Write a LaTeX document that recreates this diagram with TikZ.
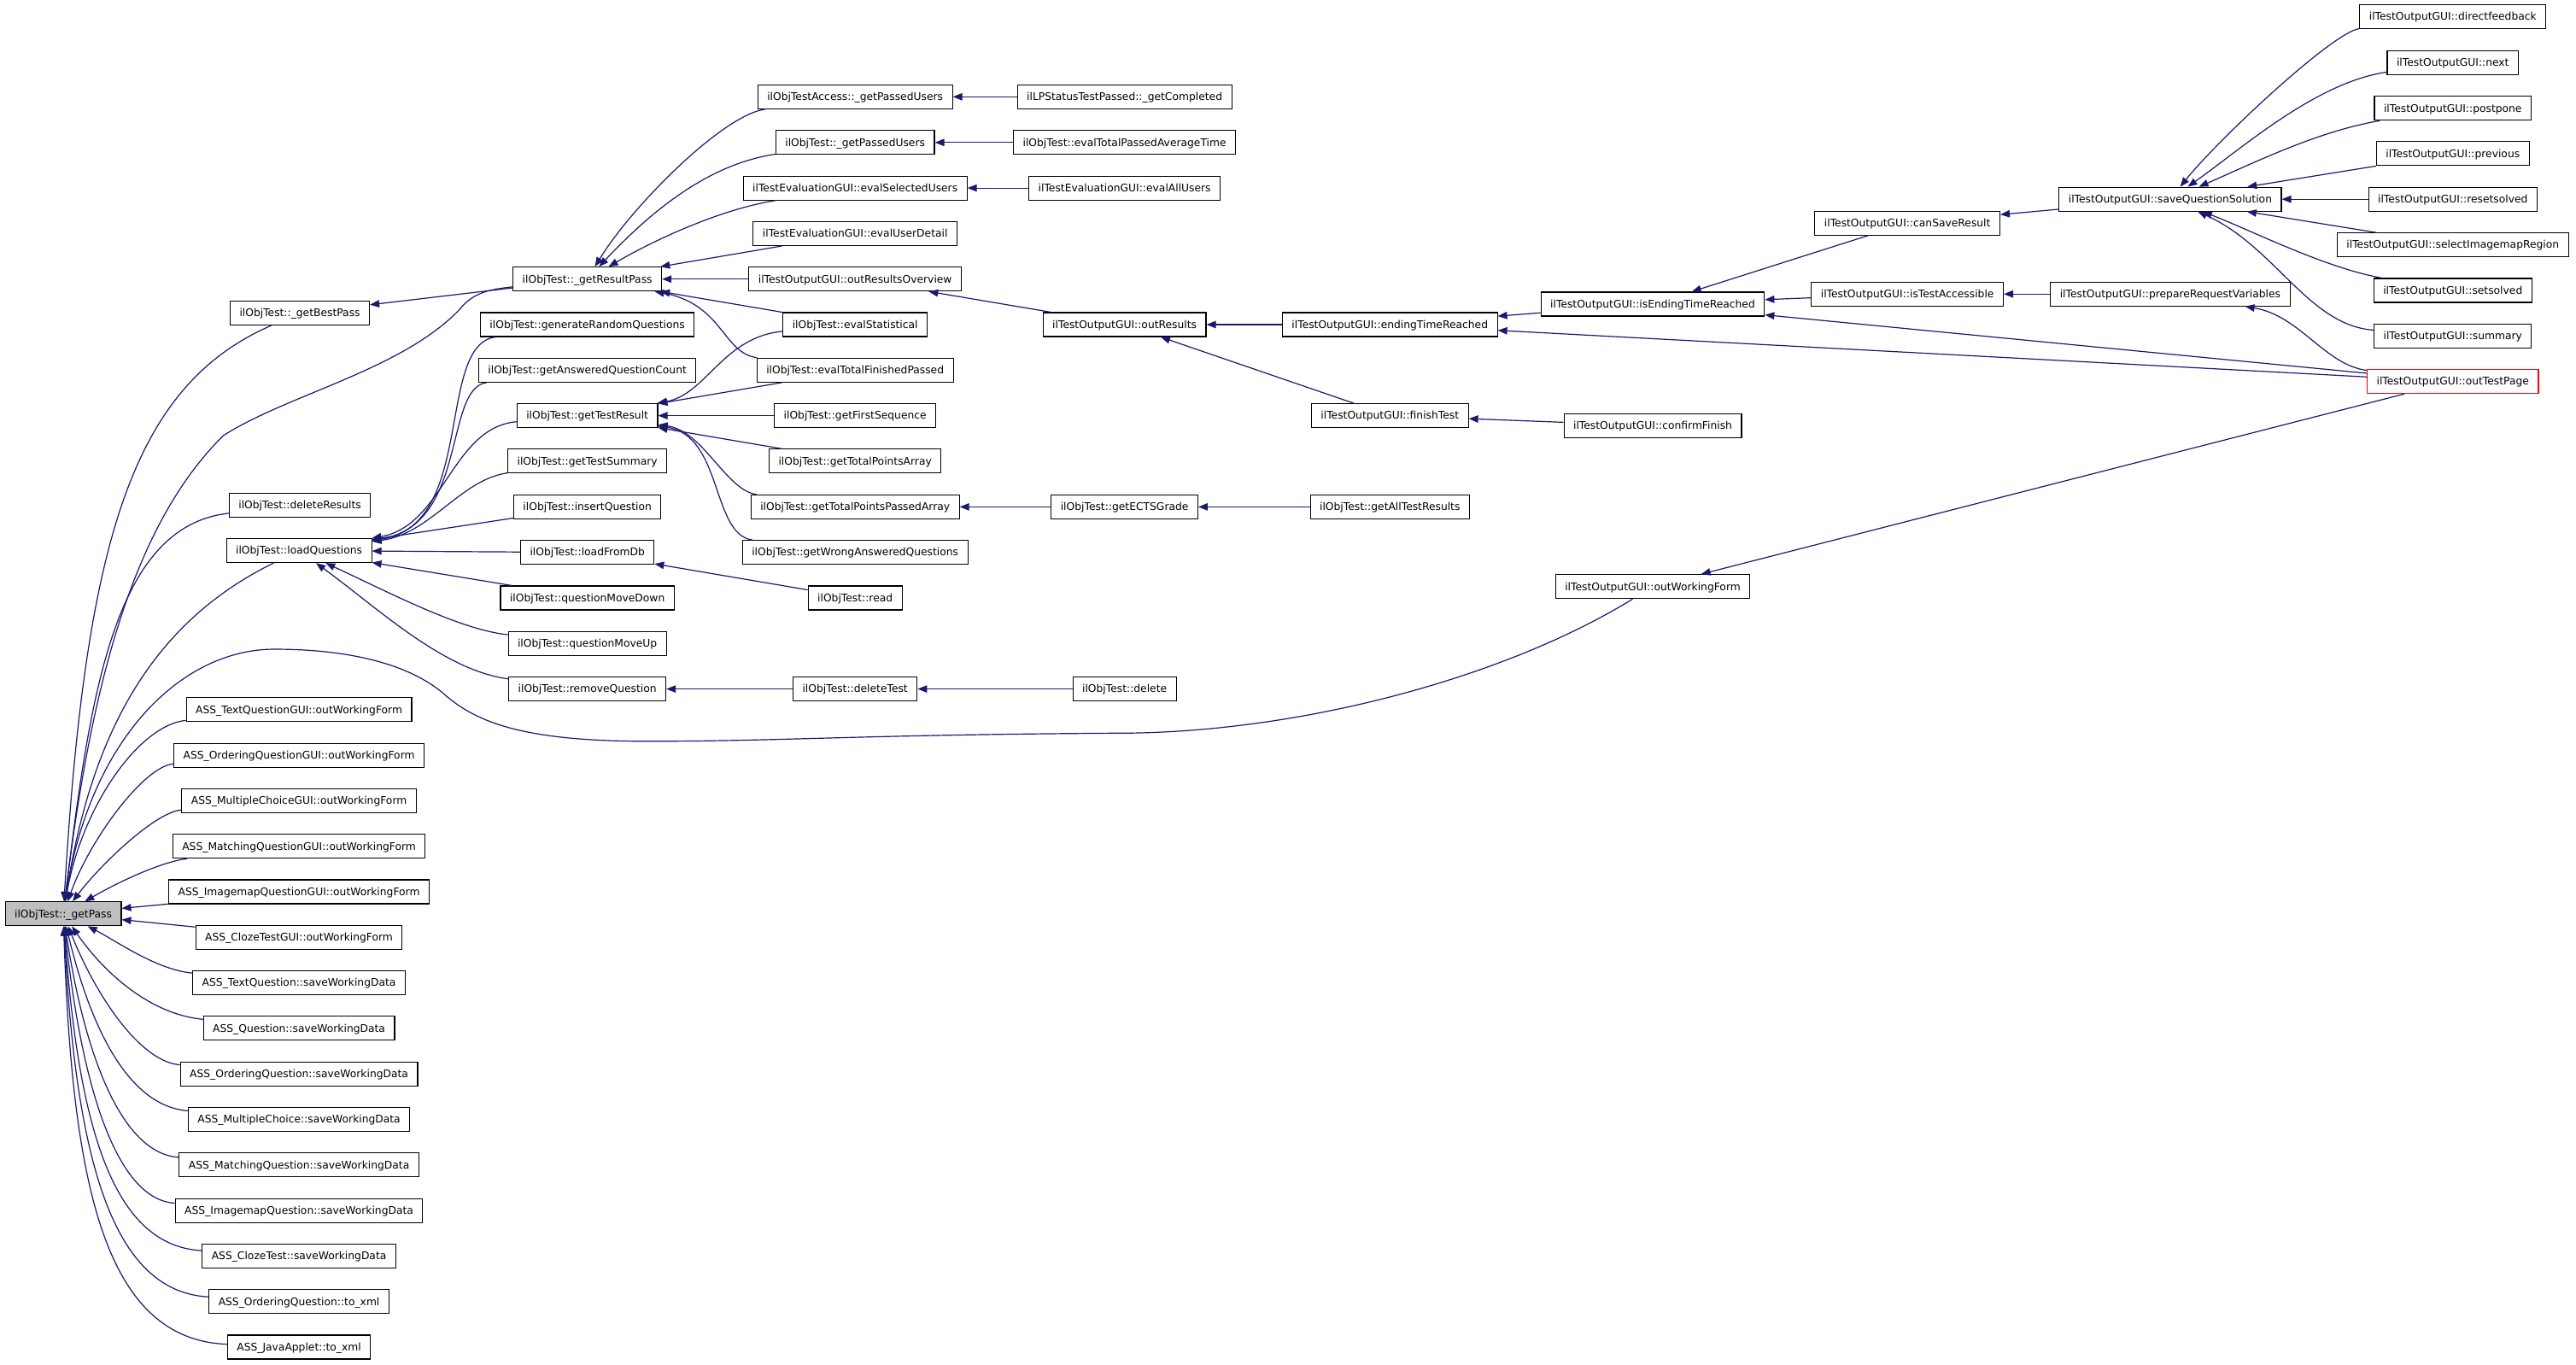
\documentclass[tikz,border=0pt]{standalone}
\usepackage{fontspec}
\setmainfont{DejaVu Sans}
\usetikzlibrary{arrows.meta}
\definecolor{edgec}{HTML}{191970}
\definecolor{gpfill}{HTML}{BFBFBF}
\tikzset{
 box/.style={draw=black, line width=1.1pt, fill=white, minimum height=28pt, inner xsep=11pt, inner ysep=0pt, text height=10.8pt, text depth=2.2pt, font=\fontsize{12.3}{14}\selectfont},
 e/.style={draw=edgec, line width=1.2pt, {Triangle[length=11pt,width=8.5pt]}-},
}
\begin{document}
\begin{tikzpicture}[x=1.92347pt,y=-1.9241pt]
\useasboundingbox (0,0) rectangle (1568,830);
% column A
\node[box,fill=gpfill] (gp) at (38.5,556) {ilObjTest::\_getPass};
% column B
\node[box] (gBP) at (182.5,190.5) {ilObjTest::\_getBestPass};
\node[box] (dR) at (182.5,307.5) {ilObjTest::deleteResults};
\node[box] (lQ) at (182,335) {ilObjTest::loadQuestions};
\node[box] (tqg) at (182,431.8) {ASS\_TextQuestionGUI::outWorkingForm};
\node[box] (oqg) at (182,459.5) {ASS\_OrderingQuestionGUI::outWorkingForm};
\node[box] (mcg) at (182,487.2) {ASS\_MultipleChoiceGUI::outWorkingForm};
\node[box] (mqg) at (182,514.9) {ASS\_MatchingQuestionGUI::outWorkingForm};
\node[box] (iqg) at (182,542.6) {ASS\_ImagemapQuestionGUI::outWorkingForm};
\node[box] (ctg) at (182,570.3) {ASS\_ClozeTestGUI::outWorkingForm};
\node[box] (tqs) at (182,598) {ASS\_TextQuestion::saveWorkingData};
\node[box] (qs) at (182,625.7) {ASS\_Question::saveWorkingData};
\node[box] (oqs) at (182,653.4) {ASS\_OrderingQuestion::saveWorkingData};
\node[box] (mcs) at (182,681.1) {ASS\_MultipleChoice::saveWorkingData};
\node[box] (mqs) at (182,708.8) {ASS\_MatchingQuestion::saveWorkingData};
\node[box] (iqs) at (182,736.5) {ASS\_ImagemapQuestion::saveWorkingData};
\node[box] (cts) at (182,764.2) {ASS\_ClozeTest::saveWorkingData};
\node[box] (oqx) at (182,791.9) {ASS\_OrderingQuestion::to\_xml};
\node[box] (jax) at (182,819.6) {ASS\_JavaApplet::to\_xml};
% column C
\node[box] (gRP) at (357.5,169.8) {ilObjTest::\_getResultPass};
\node[box] (gRQ) at (357.5,197.5) {ilObjTest::generateRandomQuestions};
\node[box] (gAQC) at (357.5,225.2) {ilObjTest::getAnsweredQuestionCount};
\node[box] (gTR) at (357.5,252.9) {ilObjTest::getTestResult};
\node[box] (gTS) at (357.5,280.6) {ilObjTest::getTestSummary};
\node[box] (iQ) at (357.5,308.4) {ilObjTest::insertQuestion};
\node[box] (lFD) at (357.5,336.1) {ilObjTest::loadFromDb};
\node[box] (qMD) at (357.5,363.8) {ilObjTest::questionMoveDown};
\node[box] (qMU) at (357.5,391.5) {ilObjTest::questionMoveUp};
\node[box] (rQ) at (357.5,419.2) {ilObjTest::removeQuestion};
% column D
\node[box] (aPU) at (520.5,58.9) {ilObjTestAccess::\_getPassedUsers};
\node[box] (gPU) at (520.5,86.7) {ilObjTest::\_getPassedUsers};
\node[box] (eSU) at (520.5,114.4) {ilTestEvaluationGUI::evalSelectedUsers};
\node[box] (eUD) at (520.5,142.1) {ilTestEvaluationGUI::evalUserDetail};
\node[box] (oRO) at (520.5,169.8) {ilTestOutputGUI::outResultsOverview};
\node[box] (eS) at (520.5,197.5) {ilObjTest::evalStatistical};
\node[box] (eTFP) at (520.5,225.2) {ilObjTest::evalTotalFinishedPassed};
\node[box] (gFS) at (520.5,252.9) {ilObjTest::getFirstSequence};
\node[box] (gTPA) at (520.5,280.6) {ilObjTest::getTotalPointsArray};
\node[box] (gTPPA) at (520.5,308.4) {ilObjTest::getTotalPointsPassedArray};
\node[box] (gWAQ) at (520.5,336.1) {ilObjTest::getWrongAnsweredQuestions};
\node[box] (rd) at (520.5,363.8) {ilObjTest::read};
\node[box] (dT) at (520.5,419.2) {ilObjTest::deleteTest};
% column E
\node[box] (gC) at (684.5,58.9) {ilLPStatusTestPassed::\_getCompleted};
\node[box] (eTPAT) at (684.5,86.7) {ilObjTest::evalTotalPassedAverageTime};
\node[box] (eAU) at (684.5,114.4) {ilTestEvaluationGUI::evalAllUsers};
\node[box] (oR) at (684.5,197.5) {ilTestOutputGUI::outResults};
\node[box] (ects) at (684.5,308.4) {ilObjTest::getECTSGrade};
\node[box] (del) at (684.5,419.2) {ilObjTest::delete};
% column F
\node[box] (eTR) at (846,197.5) {ilTestOutputGUI::endingTimeReached};
\node[box] (fT) at (846,252.9) {ilTestOutputGUI::finishTest};
\node[box] (gATR) at (846,308.4) {ilObjTest::getAllTestResults};
% column G
\node[box] (iETR) at (1006,185) {ilTestOutputGUI::isEndingTimeReached};
\node[box] (cF) at (1006,259) {ilTestOutputGUI::confirmFinish};
\node[box] (oWF) at (1006,356.9) {ilTestOutputGUI::outWorkingForm};
% column H
\node[box] (cSR) at (1161,135.7) {ilTestOutputGUI::canSaveResult};
\node[box] (iTA) at (1161,178.9) {ilTestOutputGUI::isTestAccessible};
% column I
\node[box] (sQS) at (1321,121.2) {ilTestOutputGUI::saveQuestionSolution};
\node[box] (pRV) at (1321,178.9) {ilTestOutputGUI::prepareRequestVariables};
% column J
\node[box] (df) at (1493,10.2) {ilTestOutputGUI::directfeedback};
\node[box] (nx) at (1493,38.1) {ilTestOutputGUI::next};
\node[box] (pp) at (1493,65.9) {ilTestOutputGUI::postpone};
\node[box] (pv) at (1493,93.5) {ilTestOutputGUI::previous};
\node[box] (rs) at (1493,121.2) {ilTestOutputGUI::resetsolved};
\node[box] (sIR) at (1493,149) {ilTestOutputGUI::selectImagemapRegion};
\node[box] (ss) at (1493,176.7) {ilTestOutputGUI::setsolved};
\node[box] (sm) at (1493,204.3) {ilTestOutputGUI::summary};
\node[box,draw=red] (oTP) at (1493,232.1) {ilTestOutputGUI::outTestPage};

% ---- edges into getPass
\draw[e] (gp) .. controls (52,330) and (80,235) .. (gBP);
\draw[e] (gp) .. controls (55,420) and (80,320) .. (136,265) .. controls (175,240) and (245,225) .. (280,188) .. controls (288,178) and (298,176) .. (gRP);
\draw[e] (gp) .. controls (55,420) and (70,320) .. (dR);
\draw[e] (gp) .. controls (55,450) and (90,380) .. (lQ);
\draw[e] (gp) .. controls (55,450) and (110,395) .. (167,395) .. controls (215,395) and (250,405) .. (270,422) .. controls (290,440) and (320,451) .. (394,451) .. controls (480,451) and (520,447) .. (690,446) .. controls (800,444) and (920,410) .. (oWF);
\draw[e] (gp) .. controls (50,490) and (85,441) .. (tqg);
\draw[e] (gp) .. controls (55,510) and (88,466) .. (oqg);
\draw[e] (gp) .. controls (62,525) and (95,494) .. (mcg);
\draw[e] (gp) .. controls (75,535) and (100,524) .. (mqg);
\draw[e] (gp) -- (iqg);
\draw[e] (gp) -- (ctg);
\draw[e] (gp) .. controls (70,572) and (95,590) .. (tqs);
\draw[e] (gp) .. controls (62,590) and (90,617) .. (qs);
\draw[e] (gp) .. controls (58,605) and (85,646) .. (oqs);
\draw[e] (gp) .. controls (55,625) and (78,673) .. (mcs);
\draw[e] (gp) .. controls (52,645) and (75,702) .. (mqs);
\draw[e] (gp) .. controls (50,665) and (72,730) .. (iqs);
\draw[e] (gp) .. controls (48,690) and (70,758) .. (cts);
\draw[e] (gp) .. controls (46,705) and (68,786) .. (oqx);
\draw[e] (gp) .. controls (44,725) and (65,815) .. (jax);
% ---- column B targets
\draw[e] (gBP) -- (gRP);
\draw[e] (lQ) .. controls (290,320) and (265,210) .. (gRQ);
\draw[e] (lQ) .. controls (285,320) and (270,236) .. (gAQC);
\draw[e] (lQ) .. controls (270,320) and (275,260) .. (gTR);
\draw[e] (lQ) .. controls (262,325) and (280,292) .. (gTS);
\draw[e] (lQ) -- (iQ);
\draw[e] (lQ) -- (lFD);
\draw[e] (lQ) -- (qMD);
\draw[e] (lQ) .. controls (240,362) and (280,383) .. (qMU);
\draw[e] (lQ) .. controls (230,370) and (270,408) .. (rQ);
% ---- column C targets
\draw[e] (gRP) .. controls (385,125) and (440,70) .. (aPU);
\draw[e] (gRP) .. controls (395,130) and (430,100) .. (gPU);
\draw[e] (gRP) .. controls (400,145) and (440,127) .. (eSU);
\draw[e] (gRP) -- (eUD);
\draw[e] (gRP) -- (oRO);
\draw[e] (gRP) -- (eS);
\draw[e] (gRP) .. controls (440,185) and (440,215) .. (eTFP);
\draw[e] (gTR) .. controls (430,240) and (440,205) .. (eS);
\draw[e] (gTR) -- (eTFP);
\draw[e] (gTR) -- (gFS);
\draw[e] (gTR) -- (gTPA);
\draw[e] (gTR) .. controls (428,262) and (442,298.5) .. (gTPPA);
\draw[e] (gTR) .. controls (440,265) and (433,325.5) .. (gWAQ);
\draw[e] (lFD) -- (rd);
\draw[e] (rQ) -- (dT);
% ---- column D targets
\draw[e] (aPU) -- (gC);
\draw[e] (gPU) -- (eTPAT);
\draw[e] (eSU) -- (eAU);
\draw[e] (oRO) -- (oR);
\draw[e] (gTPPA) -- (ects);
\draw[e] (dT) -- (del);
% ---- further right
\draw[e] (ects) -- (gATR);
\draw[e] (oR) -- (eTR);
\draw[e] (oR) -- (fT);
\draw[e] (fT) -- (cF);
\draw[e] (eTR) -- (iETR);
\draw[e] (eTR) -- (oTP);
\draw[e] (iETR) -- (cSR);
\draw[e] (iETR) -- (iTA);
\draw[e] (iETR) -- (oTP);
\draw[e] (cSR) -- (sQS);
\draw[e] (iTA) -- (pRV);
\draw[e] (pRV) .. controls (1400,192) and (1415,222) .. (oTP);
\draw[e] (oWF) -- (oTP);
% ---- saveQuestionSolution fan
\draw[e] (sQS) .. controls (1350,85) and (1420,19.5) .. (df);
\draw[e] (sQS) .. controls (1365,90) and (1410,50) .. (nx);
\draw[e] (sQS) .. controls (1370,100) and (1410,80) .. (pp);
\draw[e] (sQS) -- (pv);
\draw[e] (sQS) -- (rs);
\draw[e] (sQS) -- (sIR);
\draw[e] (sQS) .. controls (1370,140) and (1415,163) .. (ss);
\draw[e] (sQS) .. controls (1385,150) and (1405,198) .. (sm);
\end{tikzpicture}
\end{document}
